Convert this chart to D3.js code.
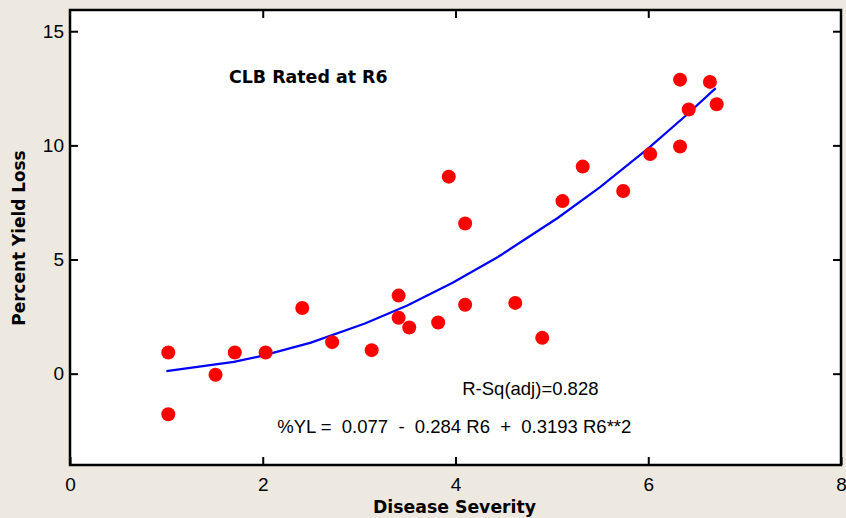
<!DOCTYPE html>
<html>
<head>
<meta charset="utf-8">
<script src="https://cdn.jsdelivr.net/npm/d3@7"></script>
<style>
  body { margin: 0; background: #ede9e0; }
  svg { display: block; }
</style>
</head>
<body>
<script>
// Data
var severity = [1.02, 1.02, 1.51, 1.71, 2.03, 2.41, 2.72, 3.13, 3.41, 3.41, 3.52, 3.82, 3.93,
  4.10, 4.10, 4.62, 4.90, 5.11, 5.32, 5.74, 6.02, 6.33, 6.33, 6.42, 6.64, 6.71];
var yieldLoss = [0.93, -1.78, -0.05, 0.93, 0.93, 2.88, 1.38, 1.03, 3.42, 2.45, 2.02, 2.24, 8.63,
  6.58, 3.02, 3.10, 1.57, 7.56, 9.07, 8.00, 9.62, 12.88, 9.95, 11.57, 12.78, 11.80];

// fitted curve vertices as drawn
var fitX = [1.0, 1.7, 2.0, 2.5, 3.06, 3.5, 3.97, 4.44, 5.06, 5.5, 6.0, 6.4, 6.7];
var fitY = [0.11, 0.52, 0.79, 1.36, 2.20, 2.99, 3.98, 5.11, 6.82, 8.17, 9.87, 11.34, 12.51];

var xTicks = [0, 2, 4, 6, 8];
var yTicks = [0, 5, 10, 15];

var svgWidth = 846;
var svgHeight = 518;
var margin = { top: 10, right: 5, bottom: 53, left: 70 };
var chartWidth = svgWidth - margin.left - margin.right;
var chartHeight = svgHeight - margin.top - margin.bottom;

var svg = d3.select("body")
  .append("svg")
  .attr("width", svgWidth)
  .attr("height", svgHeight);

var chartGroup = svg.append("g")
  .attr("transform", `translate(${margin.left}, ${margin.top})`);

var xScale = d3.scaleLinear().domain([0, 8]).range([0, chartWidth]);
var yScale = d3.scaleLinear().domain([-4, 15.93]).range([chartHeight, 0]);

// plot area
chartGroup.append("rect")
  .attr("width", chartWidth)
  .attr("height", chartHeight)
  .attr("fill", "white");

var font = "'Liberation Sans', Arial, sans-serif";
var boldFont = "'DejaVu Sans', Verdana, sans-serif";

// axes, ticks pointing inward on all four sides
function styleAxis(g, labels) {
  g.select(".domain").remove();
  g.selectAll(".tick line").attr("stroke", "black").attr("stroke-width", 2);
  g.selectAll(".tick text")
    .attr("font-family", font)
    .attr("font-size", 19)
    .attr("fill", "black");
  if (!labels) g.selectAll(".tick text").remove();
}

chartGroup.append("g")
  .attr("transform", `translate(0, ${chartHeight})`)
  .call(d3.axisBottom(xScale).tickValues(xTicks).tickSizeInner(-8).tickPadding(13).tickFormat(d3.format("d")))
  .call(g => styleAxis(g, true));

chartGroup.append("g")
  .call(d3.axisTop(xScale).tickValues(xTicks.slice(1, 4)).tickSizeInner(-8))
  .call(g => styleAxis(g, false));

chartGroup.append("g")
  .call(d3.axisLeft(yScale).tickValues(yTicks).tickSizeInner(-8).tickPadding(6).tickFormat(d3.format("d")))
  .call(g => styleAxis(g, true));

chartGroup.append("g")
  .attr("transform", `translate(${chartWidth}, 0)`)
  .call(d3.axisRight(yScale).tickValues(yTicks).tickSizeInner(-8))
  .call(g => styleAxis(g, false));

// frame
chartGroup.append("rect")
  .attr("width", chartWidth)
  .attr("height", chartHeight)
  .attr("fill", "none")
  .attr("stroke", "black")
  .attr("stroke-width", 2.5);

// fitted line
var line = d3.line()
  .x((d, i) => xScale(fitX[i]))
  .y(d => yScale(d));

chartGroup.append("path")
  .datum(fitY)
  .attr("d", line)
  .attr("fill", "none")
  .attr("stroke", "#0000ff")
  .attr("stroke-width", 2.2);

// points
chartGroup.selectAll("circle")
  .data(severity)
  .enter()
  .append("circle")
  .attr("cx", d => xScale(d))
  .attr("cy", (d, i) => yScale(yieldLoss[i]))
  .attr("r", 7)
  .attr("fill", "#ff0000");

// text annotations
chartGroup.append("text")
  .attr("x", xScale(1.65))
  .attr("y", yScale(12.75))
  .attr("font-family", boldFont)
  .attr("font-weight", "bold")
  .attr("font-size", 17.4)
  .text("CLB Rated at R6");

chartGroup.append("text")
  .attr("x", xScale(4.07))
  .attr("y", yScale(-0.95))
  .attr("font-family", font)
  .attr("font-size", 18.5)
  .text("R-Sq(adj)=0.828");

chartGroup.append("text")
  .attr("x", xScale(2.15))
  .attr("y", yScale(-2.62))
  .attr("font-family", font)
  .attr("font-size", 18.5)
  .attr("xml:space", "preserve")
  .text("%YL =  0.077  -  0.284 R6  +  0.3193 R6**2");

// axis titles
svg.append("text")
  .attr("x", margin.left + xScale(3.99))
  .attr("y", 513)
  .attr("text-anchor", "middle")
  .attr("font-family", boldFont)
  .attr("font-weight", "bold")
  .attr("font-size", 17.3)
  .text("Disease Severity");

svg.append("text")
  .attr("transform", "translate(25, 238) rotate(-90)")
  .attr("text-anchor", "middle")
  .attr("font-family", boldFont)
  .attr("font-weight", "bold")
  .attr("font-size", 16.9)
  .text("Percent Yield Loss");
</script>
</body>
</html>
